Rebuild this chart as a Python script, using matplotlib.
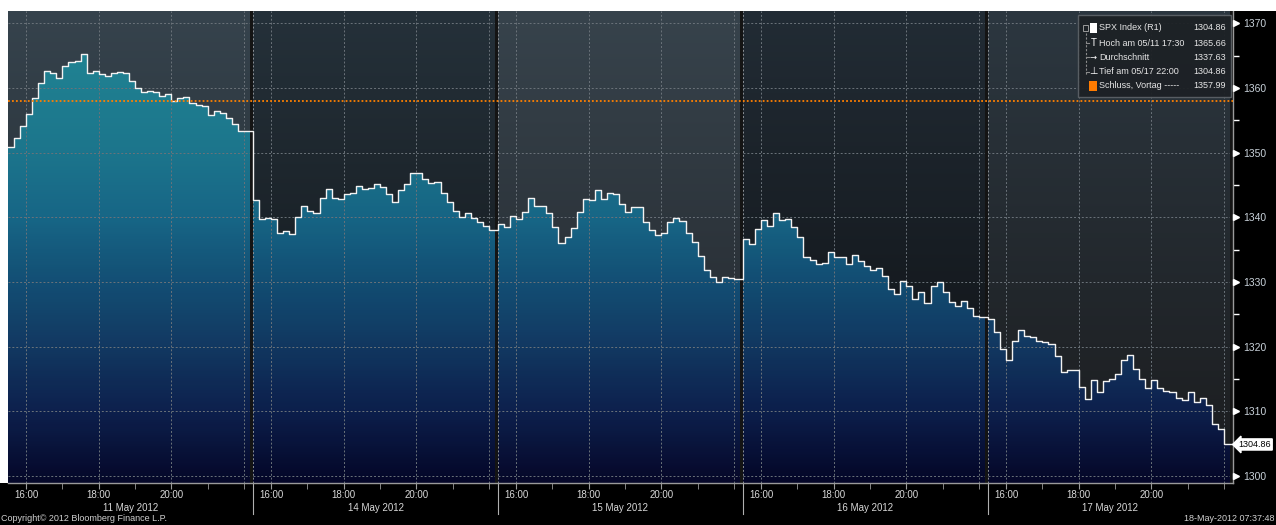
import numpy as np
import matplotlib
matplotlib.use("Agg")
import matplotlib.pyplot as plt
from matplotlib.colors import LinearSegmentedColormap
from matplotlib.patches import Rectangle
import matplotlib.transforms as mtrans

plt.rcParams['font.family'] = ['Liberation Sans', 'DejaVu Sans']

# SPX Index, 10-minute closes, 15:30 onward each day
day_labels = ["11 May 2012", "14 May 2012", "15 May 2012", "16 May 2012", "17 May 2012"]
hour_labels = ["16:00", "18:00", "20:00"]

may11 = [1350.8, 1352.3, 1354.1, 1356.0, 1358.5, 1360.8, 1362.6, 1362.3, 1361.6, 1363.4,
         1364.0, 1364.2, 1365.2, 1362.3, 1362.6, 1362.2, 1361.9, 1362.3, 1362.4, 1362.3,
         1361.1, 1360.0, 1359.4, 1359.6, 1359.3, 1358.7, 1359.0, 1358.0, 1358.5, 1358.6,
         1357.6, 1357.4, 1357.2, 1355.8, 1356.4, 1356.2, 1355.4, 1354.5, 1353.4, 1353.4]
may14 = [1342.6, 1339.8, 1339.9, 1339.7, 1337.5, 1337.9, 1337.4, 1340.0, 1341.8, 1340.9,
         1340.6, 1343.0, 1344.4, 1343.0, 1342.8, 1343.6, 1343.7, 1344.9, 1344.3, 1344.6,
         1345.1, 1344.7, 1343.6, 1342.3, 1344.2, 1345.1, 1346.9, 1346.8, 1345.9, 1345.3,
         1345.4, 1343.8, 1342.3, 1341.0, 1340.0, 1340.6, 1339.9, 1339.2, 1338.6, 1338.0]
may15 = [1339.0, 1338.5, 1340.2, 1339.8, 1340.8, 1343.0, 1341.8, 1341.7, 1340.6, 1338.5,
         1336.0, 1337.0, 1338.3, 1340.8, 1342.8, 1342.6, 1344.2, 1342.8, 1343.8, 1343.6,
         1342.1, 1340.8, 1341.6, 1341.6, 1339.2, 1338.0, 1337.2, 1337.6, 1339.2, 1339.9,
         1339.4, 1337.6, 1336.1, 1334.0, 1331.8, 1330.7, 1330.0, 1330.7, 1330.6, 1330.5]
may16 = [1336.7, 1335.8, 1338.2, 1339.5, 1338.6, 1340.6, 1339.6, 1339.8, 1338.5, 1336.9,
         1333.8, 1333.4, 1332.8, 1332.9, 1334.6, 1333.9, 1333.8, 1332.8, 1334.1, 1333.3,
         1332.5, 1331.9, 1332.2, 1330.9, 1328.9, 1328.2, 1330.2, 1329.4, 1327.3, 1328.4,
         1326.8, 1329.4, 1330.0, 1328.4, 1326.9, 1326.3, 1327.0, 1326.0, 1324.8, 1324.6]
may17 = [1324.3, 1322.2, 1319.7, 1318.0, 1320.9, 1322.5, 1321.7, 1321.5, 1320.8, 1320.7,
         1320.4, 1318.6, 1316.1, 1316.4, 1316.4, 1313.8, 1311.9, 1314.8, 1313.0, 1314.6,
         1315.0, 1315.8, 1317.9, 1318.7, 1316.6, 1315.0, 1313.6, 1314.8, 1313.6, 1313.2,
         1313.0, 1312.0, 1311.7, 1313.0, 1311.5, 1312.0, 1310.9, 1308.0, 1307.2, 1304.86]

prev_close = 1357.99
last_price = 1304.86
yticks = [1300, 1310, 1320, 1330, 1340, 1350, 1360, 1370]

legend_rows = [("SPX Index (R1)", "1304.86"),
               ("Hoch am 05/11 17:30", "1365.66"),
               ("Durchschnitt", "1337.63"),
               ("Tief am 05/17 22:00", "1304.86"),
               ("Schluss, Vortag -----", "1357.99")]

# layout
W, H = 1276, 525
DAY = 6.75   # 15:30 .. 22:15 in hours
ymin, ymax = 1298.9, 1371.9
days = [may11, may14, may15, may16, may17]

fig = plt.figure(figsize=(W / 100, H / 100), dpi=100, facecolor='black')
fig.add_artist(Rectangle((0, 1 - 11 / H), 1, 11 / H, transform=fig.transFigure,
                         facecolor='white', edgecolor='none'))
fig.add_artist(Rectangle((0, 42 / H), 8 / W, (483 - 11) / H, transform=fig.transFigure,
                         facecolor='white', edgecolor='none'))

ax = fig.add_axes([8 / W, 42 / H, (1233 - 8) / W, (483 - 11) / H])
ax.set_xlim(0, 5 * DAY)
ax.set_ylim(ymin, ymax)
ax.set_facecolor('#1c2024')

# panel backgrounds, vertical gradients
bg_top = ['#36434d', '#25313a', '#37434c', '#222c35', '#2c3740']
bg_bot = ['#1e2428', '#0f1215', '#22252a', '#0d0f12', '#1b1c1e']
for d in range(5):
    c1 = np.array(matplotlib.colors.to_rgb(bg_top[d]))
    c2 = np.array(matplotlib.colors.to_rgb(bg_bot[d]))
    t = np.linspace(0, 1, 200)[:, None]
    grad = (c1 * (1 - t) + c2 * t)[:, None, :]
    ax.imshow(grad, extent=[d * DAY, (d + 1) * DAY, ymin, ymax], aspect='auto',
              origin='upper', zorder=0, interpolation='bilinear')

# price series as steps
xs, ys = [], []
for d, vals in enumerate(days):
    for i, v in enumerate(vals):
        xs.append(d * DAY + i / 6)
        ys.append(v)
xs.append(5 * DAY)
ys.append(days[-1][-1])
xs = np.array(xs)
ys = np.array(ys)

fill = ax.fill_between(xs, ys, ymin, step='post', facecolor='none', edgecolor='none')
cmap = LinearSegmentedColormap.from_list('bbg', [
    (0.0, '#04062a'), (0.15, '#0c2050'), (0.29, '#113a66'), (0.43, '#12527a'),
    (0.56, '#166a8c'), (0.70, '#1b7a92'), (0.90, '#1f8898'), (1.0, '#2391a2')])
grad = np.linspace(1, 0, 300)[:, None]
im = ax.imshow(grad, cmap=cmap, extent=[0, 5 * DAY, ymin, ymax], aspect='auto',
               origin='upper', zorder=1, alpha=0.93, vmin=0, vmax=1)
im.set_clip_path(fill.get_paths()[0], transform=ax.transData)

# grid
for y in yticks:
    ax.axhline(y, color='#6b737a', lw=0.7, ls=(0, (2, 2)), zorder=2)
for d in range(5):
    for h in [0.5, 2.5, 4.5, 6.5]:
        ax.axvline(d * DAY + h, color='#6b737a', lw=0.7, ls=(0, (2, 2)), zorder=2)
    if d > 0:
        ax.axvline(d * DAY, color='#8a8f94', lw=0.7, ls=(0, (2, 2)), zorder=2)
    ax.axvspan(d * DAY + 6.68, d * DAY + 6.75, color='#141414', lw=0, zorder=2.5)

ax.step(xs, ys, where='post', color='#f2f2f2', lw=1.0, zorder=4)
ax.axhline(prev_close, color='#ff8000', lw=1.3, ls=(0, (1, 1.2)), zorder=5)

# spines
for s in ['top', 'left']:
    ax.spines[s].set_visible(False)
for s in ['bottom', 'right']:
    ax.spines[s].set_color('#9a9a9a')
    ax.spines[s].set_linewidth(1.0)

# y axis on the right
ax.yaxis.tick_right()
ax.set_yticks(yticks)
ax.set_yticklabels([str(v) for v in yticks])
ax.set_yticks([v + 5 for v in yticks[:-1]], minor=True)
ax.tick_params(axis='y', which='major', length=0, pad=7, labelsize=7.5, labelcolor='#c9d2da')
ax.tick_params(axis='y', which='minor', length=4, width=1, color='white', direction='out')
tr = mtrans.blended_transform_factory(ax.transAxes, ax.transData)
ax.plot([1.0025] * len(yticks), yticks, marker='>', ms=4.5, color='white', ls='none',
        transform=tr, clip_on=False, zorder=6)
ax.text(1.0045, last_price, '1304.86', transform=tr, ha='left', va='center', fontsize=6.5,
        color='black', zorder=7,
        bbox=dict(boxstyle='larrow,pad=0.12', facecolor='white', edgecolor='white'))

# x axis
major = [d * DAY + h for d in range(5) for h in [0.5, 2.5, 4.5]]
ax.set_xticks(major)
ax.set_xticklabels(hour_labels * 5)
minor = [d * DAY + h for d in range(5) for h in [1.5, 3.5, 5.5, 6.5]]
ax.set_xticks(minor, minor=True)
ax.tick_params(axis='x', which='both', length=4, color='#9a9a9a', direction='out',
               labelsize=7, labelcolor='#d8d8d8', pad=1)
trx = mtrans.blended_transform_factory(ax.transData, ax.transAxes)
for d in range(5):
    ax.text(d * DAY + 3.375, -0.042, day_labels[d], transform=trx, ha='center', va='top',
            fontsize=7, color='#d8d8d8')
    if d > 0:
        ax.plot([d * DAY, d * DAY], [0, -0.065], color='#b0b0b0', lw=0.8, transform=trx,
                clip_on=False)

# legend box
lx0, lx1, ly0, ly1 = 1078, 1231, 15, 97
fig.add_artist(Rectangle((lx0 / W, 1 - ly1 / H), (lx1 - lx0) / W, (ly1 - ly0) / H,
                         transform=fig.transFigure, facecolor='#1d2125', edgecolor='#5c6166',
                         lw=1, alpha=0.95, zorder=10))
row_y = [28, 43, 57, 71.5, 86]
for k, (lab, val) in enumerate(legend_rows):
    yf = 1 - row_y[k] / H
    fig.text(1099 / W, yf, lab, ha='left', va='center', fontsize=6.5, color='#e6e6e6', zorder=11)
    fig.text(1226 / W, yf, val, ha='right', va='center', fontsize=6.5, color='#e6e6e6', zorder=11)
# tree lines and icons
fig.add_artist(plt.Line2D([1086 / W, 1086 / W], [1 - 33 / H, 1 - 75 / H], color='#8a8a8a',
                          lw=0.8, ls=(0, (2, 1.5)), zorder=11))
for k in [1, 2, 3]:
    yf = 1 - row_y[k] / H
    fig.add_artist(plt.Line2D([1086 / W, 1089 / W], [yf, yf], color='#8a8a8a', lw=0.8, zorder=11))
fig.add_artist(Rectangle((1083 / W, 1 - 31 / H), 5 / W, 6 / H, transform=fig.transFigure,
                         facecolor='none', edgecolor='#9a9a9a', lw=0.7, zorder=11))
fig.add_artist(Rectangle((1090 / W, 1 - 33 / H), 7 / W, 10 / H, transform=fig.transFigure,
                         facecolor='white', edgecolor='none', zorder=11))
fig.text(1093.5 / W, 1 - row_y[1] / H, 'T', ha='center', va='center', fontsize=7,
         color='white', zorder=11)
fig.text(1093.5 / W, 1 - row_y[2] / H, '\u2192', ha='center', va='center', fontsize=6,
         color='white', zorder=11, family='DejaVu Sans')
fig.text(1093.5 / W, 1 - row_y[3] / H, '\u22a5', ha='center', va='center', fontsize=7,
         color='white', zorder=11, family='DejaVu Sans')
fig.add_artist(Rectangle((1089 / W, 1 - 91 / H), 8 / W, 10 / H, transform=fig.transFigure,
                         facecolor='#ff7b00', edgecolor='none', zorder=11))

# footer
fig.text(1 / W, 0.004, 'Copyright\u00a9 2012 Bloomberg Finance L.P.', ha='left', va='bottom',
         fontsize=6.5, color='#d0d0d0')
fig.text(1 - 2 / W, 0.004, '18-May-2012 07:37:48', ha='right', va='bottom', fontsize=6.5,
         color='#d0d0d0')

fig.savefig('out.png', dpi=100, facecolor='black')
